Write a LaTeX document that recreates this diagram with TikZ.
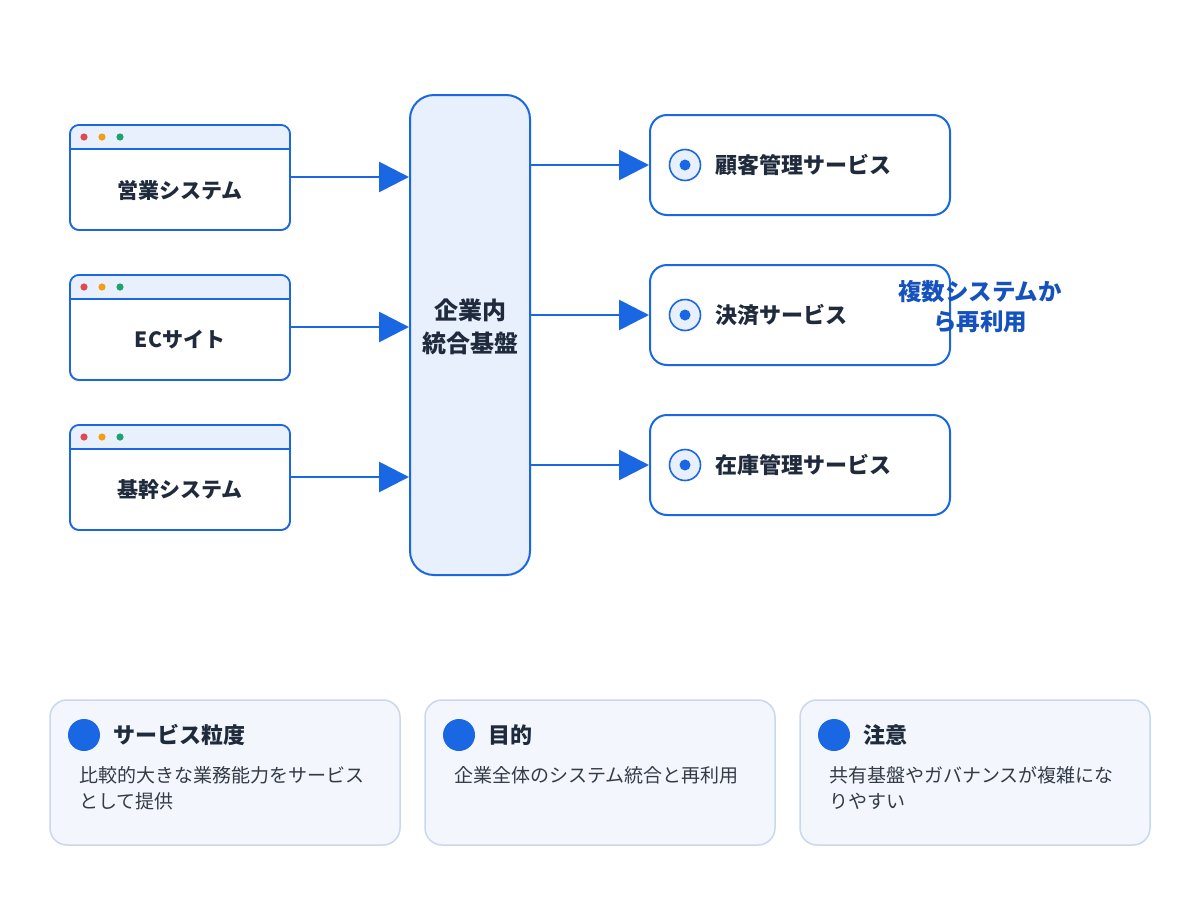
\documentclass[tikz,border=0pt]{standalone}
\usepackage{fontspec}
\setmainfont{Noto Sans CJK JP}
\usetikzlibrary{arrows.meta}
\definecolor{blu}{HTML}{1A67E3}
\definecolor{lblu}{HTML}{E8F0FD}
\definecolor{dark}{HTML}{1F2B3C}
\definecolor{cardfill}{HTML}{F3F7FD}
\definecolor{cardline}{HTML}{C9D8EE}
\definecolor{txt}{HTML}{333B47}
\definecolor{lbl}{HTML}{1552BD}
\definecolor{dred}{HTML}{E04A4F}
\definecolor{dorg}{HTML}{F29E16}
\definecolor{dgrn}{HTML}{1FA36C}
\tikzset{
  win/.style={draw=blu, line width=1.6pt, fill=white, rounded corners=9pt},
  conn/.style={draw=blu, line width=2.8pt, -{Triangle[length=30pt,width=30pt]}},
  svc/.style={draw=blu, line width=2pt, fill=white, rounded corners=17pt},
  card/.style={draw=cardline, line width=1.5pt, fill=cardfill, rounded corners=17pt},
  btxt/.style={font=\bfseries\fontsize{21}{26}\selectfont, text=dark},
  stxt/.style={font=\bfseries\fontsize{22}{26}\selectfont, text=dark},
}
\begin{document}
\begin{tikzpicture}[x=1pt,y=-1pt]
\useasboundingbox[fill=white] (0,0) rectangle (1200,900);
% windows
\foreach \n/\y/\t in {w1/125/営業システム, w2/275/ECサイト, w3/425/基幹システム}{
  \draw[win] (70,\y) rectangle (290,\y+105);
  \begin{scope}
    \clip[rounded corners=9pt] (70,\y) rectangle (290,\y+105);
    \fill[lblu] (70,\y) rectangle (290,\y+24);
  \end{scope}
  \draw[blu, line width=1.6pt, rounded corners=9pt] (70,\y) rectangle (290,\y+105);
  \draw[blu, line width=1.6pt] (70,\y+24) -- (290,\y+24);
  \fill[dred] (84,\y+12) circle (3.6);
  \fill[dorg] (102,\y+12) circle (3.6);
  \fill[dgrn] (120,\y+12) circle (3.6);
  \node[btxt] (\n) at (180,\y+65) {\t};
  \coordinate (\n r) at (290,\y+52);
}
% hub
\node[draw=blu, line width=2pt, fill=lblu, rounded corners=24pt, minimum width=120pt, minimum height=480pt, inner sep=0pt] (hub) at (470,335) {};
\node[font=\bfseries\fontsize{24}{33}\selectfont, text=dark, align=center] (hubt) at (470,327) {企業内\\統合基盤};
\foreach \n in {w1,w2,w3}{
  \draw[conn] (\n r) -- (hub.west |- \n r);
}
% services
\foreach \n/\y/\t in {s1/165/顧客管理サービス, s2/315/決済サービス, s3/465/在庫管理サービス}{
  \node[svc, minimum width=300pt, minimum height=100pt, inner sep=0pt] (\n) at (800,\y) {};
  \draw[blu, line width=1.6pt, fill=lblu] (685,\y) circle (15.5);
  \fill[blu] (685,\y) circle (5.5);
  \node[stxt, anchor=west, inner sep=0pt] at (715,\y) {\t};
  \draw[conn] (hub.east |- \n.west) -- (\n.west);
}
\node[font=\bfseries\fontsize{23.5}{30}\selectfont, text=lbl, align=center] (reuse) at (980,307) {複数システムか\\ら再利用};
% cards
\foreach \x/\ti/\body in {50/サービス粒度/{比較的大きな業務能力をサービス\\として提供}, 425/目的/{企業全体のシステム統合と再利用}, 800/注意/{共有基盤やガバナンスが複雑にな\\りやすい}}{
  \draw[card] (\x,700) rectangle (\x+350,845);
  \fill[blu] (\x+34,735) circle (16);
  \node[stxt, anchor=west, inner sep=0pt] at (\x+63,735) {\ti};
  \node[anchor=north west, inner sep=0pt, align=left, text=txt, font=\fontsize{19}{26}\selectfont] at (\x+29,766) {\body};
}
\end{tikzpicture}
\end{document}
